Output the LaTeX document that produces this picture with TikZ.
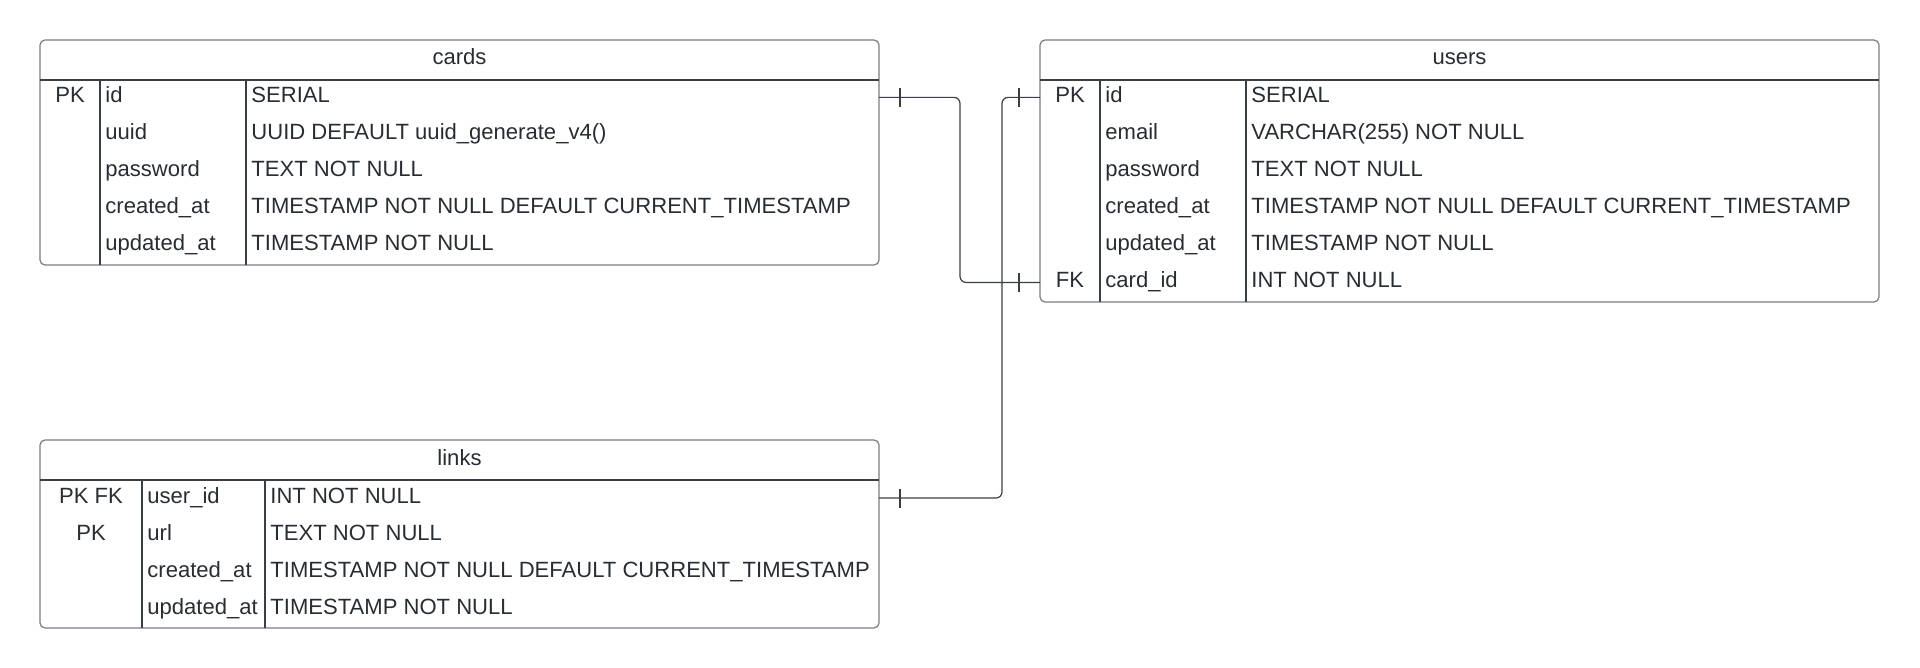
\documentclass[tikz,border=0pt]{standalone}
\usepackage{fontspec}
\setmainfont{Liberation Sans}
\usetikzlibrary{positioning, calc}
\definecolor{myframe}{RGB}{120,125,132}
\definecolor{myrule}{RGB}{58,63,70}
\definecolor{myink}{RGB}{40,45,52}
\tikzset{
    entity/.style={
           rectangle,
           rounded corners=2.5pt,
           draw=myframe, line width=0.6pt,
           inner sep=0pt, outer sep=0pt,
           },
    title/.style={text=myink, inner sep=0pt, text height=0.72em, text depth=2.2pt},
    key/.style={text=myink, inner sep=0pt, text height=0.72em, text depth=2.2pt},
    field/.style={text=myink, anchor=west, inner sep=0pt, text height=0.72em, text depth=2.2pt},
    sep/.style={draw=myrule, line width=0.6pt},
    rel/.style={draw=myrule, line width=0.6pt, rounded corners=3pt},
}
\begin{document}
\begin{tikzpicture}[x=0.5pt, y=-0.5pt, font=\fontsize{11.03}{13}\selectfont]
      \useasboundingbox (0,0) rectangle (1920,668);
      % tables
      \node[entity, minimum width=419.5pt, minimum height=112.5pt] (cards) at (459.5,152.5) {};
      \node[entity, minimum width=419.5pt, minimum height=131pt]   (users) at (1459.5,171) {};
      \node[entity, minimum width=419.5pt, minimum height=94pt]    (links) at (459.5,534) {};
      \node[title] (cards-title) at ([yshift=-10pt]cards.north) {cards};
      \node[title] (users-title) at ([yshift=-10pt]users.north) {users};
      \node[title] (links-title) at ([yshift=-10pt]links.north) {links};
      \draw[sep] ([yshift=-20pt]cards.north west) -- ([yshift=-20pt]cards.north east);
      \draw[sep] ([yshift=-20pt]users.north west) -- ([yshift=-20pt]users.north east);
      \draw[sep] ([yshift=-20pt]links.north west) -- ([yshift=-20pt]links.north east);
      \draw[sep] ([shift={(30pt,-20pt)}]cards.north west) -- ([xshift=30pt]cards.south west);
      \draw[sep] ([shift={(103pt,-20pt)}]cards.north west) -- ([xshift=103pt]cards.south west);
      \draw[sep] ([shift={(30pt,-20pt)}]users.north west) -- ([xshift=30pt]users.south west);
      \draw[sep] ([shift={(103pt,-20pt)}]users.north west) -- ([xshift=103pt]users.south west);
      \draw[sep] ([shift={(51pt,-20pt)}]links.north west) -- ([xshift=51pt]links.south west);
      \draw[sep] ([shift={(112.5pt,-20pt)}]links.north west) -- ([xshift=112.5pt]links.south west);
      % cards
      \node[key]   (cards-pk)       at (70,97.4)   {PK};
      \node[field] (cards-id)       at (105,97.4)  {id};
      \node[field] (cards-uuid)     at (105,134.4) {uuid};
      \node[field] (cards-password) at (105,171.4) {password};
      \node[field] (cards-created)  at (105,208.4) {created\_at};
      \node[field] (cards-updated)  at (105,245.4) {updated\_at};
      \node[field] (cards-t1) at (251,97.4)  {SERIAL};
      \node[field] (cards-t2) at (251,134.4) {UUID DEFAULT uuid\_generate\_v4()};
      \node[field] (cards-t3) at (251,171.4) {TEXT NOT NULL};
      \node[field] (cards-t4) at (251,208.4) {TIMESTAMP NOT NULL DEFAULT CURRENT\_TIMESTAMP};
      \node[field] (cards-t5) at (251,245.4) {TIMESTAMP NOT NULL};
      % users
      \node[key]   (users-pk)       at (1070,97.4)  {PK};
      \node[key]   (users-fk)       at (1070,282.4) {FK};
      \node[field] (users-id)       at (1105,97.4)  {id};
      \node[field] (users-email)    at (1105,134.4) {email};
      \node[field] (users-password) at (1105,171.4) {password};
      \node[field] (users-created)  at (1105,208.4) {created\_at};
      \node[field] (users-updated)  at (1105,245.4) {updated\_at};
      \node[field] (users-cardid)   at (1105,282.4) {card\_id};
      \node[field] (users-t1) at (1251,97.4)  {SERIAL};
      \node[field] (users-t2) at (1251,134.4) {VARCHAR(255) NOT NULL};
      \node[field] (users-t3) at (1251,171.4) {TEXT NOT NULL};
      \node[field] (users-t4) at (1251,208.4) {TIMESTAMP NOT NULL DEFAULT CURRENT\_TIMESTAMP};
      \node[field] (users-t5) at (1251,245.4) {TIMESTAMP NOT NULL};
      \node[field] (users-t6) at (1251,282.4) {INT NOT NULL};
      % links
      \node[key]   (links-pkfk)    at (91,498)   {PK FK};
      \node[key]   (links-pk)      at (91,535)   {PK};
      \node[field] (links-userid)  at (147,498)  {user\_id};
      \node[field] (links-url)     at (147,535)  {url};
      \node[field] (links-created) at (147,572)  {created\_at};
      \node[field] (links-updated) at (147,609)  {updated\_at};
      \node[field] (links-t1) at (270,498) {INT NOT NULL};
      \node[field] (links-t2) at (270,535) {TEXT NOT NULL};
      \node[field] (links-t3) at (270,572) {TIMESTAMP NOT NULL DEFAULT CURRENT\_TIMESTAMP};
      \node[field] (links-t4) at (270,609) {TIMESTAMP NOT NULL};
      % relations
      \draw[rel] (cards.east |- cards-id) -- ++(81,0) |- (users.west |- users-cardid);
      \draw[rel] (users.west |- users-id) -- ++(-38,0) |- (links.east |- links-userid);
      \draw[sep] (cards.east |- cards-id) ++(21,-9.5) -- ++(0,19);
      \draw[sep] (users.west |- users-cardid) ++(-21,-9.5) -- ++(0,19);
      \draw[sep] (users.west |- users-id) ++(-21,-9.5) -- ++(0,19);
      \draw[sep] (links.east |- links-userid) ++(21,-9.5) -- ++(0,19);
    \end{tikzpicture}
\end{document}
